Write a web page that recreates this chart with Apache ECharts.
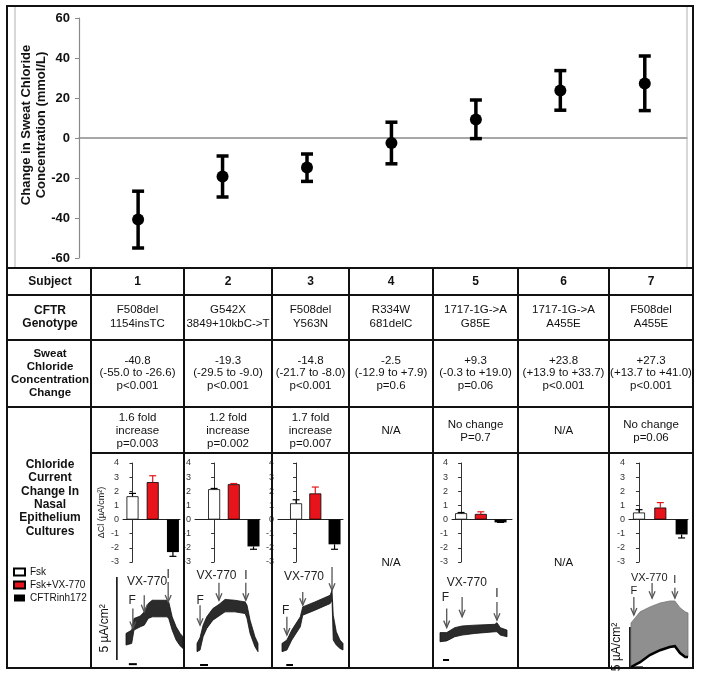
<!DOCTYPE html>
<html><head><meta charset="utf-8">
<script src="https://cdn.jsdelivr.net/npm/echarts@6/dist/echarts.min.js"></script>
<style>html,body{margin:0;padding:0;background:#fff}#c{width:701px;height:676px}</style>
</head><body><div id="c"></div><script>
// ---------------- DATA ----------------
const subjects = ['1','2','3','4','5','6','7'];
const sweatMean = [-40.8,-19.3,-14.8,-2.5,9.3,23.8,27.3];
const sweatLow  = [-55.0,-29.5,-21.7,-12.9,-0.3,13.9,13.7];
const sweatHigh = [-26.6,-9.0,-8.0,7.9,19.0,33.7,41.0];
const sweatTicks = [-60,-40,-20,0,20,40,60];
const sweatMeanText = ['-40.8','-19.3','-14.8','-2.5','+9.3','+23.8','+27.3'];
const sweatCIText = ['(-55.0 to -26.6)','(-29.5 to -9.0)','(-21.7 to -8.0)','(-12.9 to +7.9)','(-0.3 to +19.0)','(+13.9 to +33.7)','(+13.7 to +41.0)'];
const sweatPText = ['p<0.001','p<0.001','p<0.001','p=0.6','p=0.06','p<0.001','p<0.001'];
const genotypeA = ['F508del','G542X','F508del','R334W','1717-1G->A','1717-1G->A','F508del'];
const genotypeB = ['1154insTC','3849+10kbC->T','Y563N','681delC','G85E','A455E','A455E'];
const currentText = ['1.6 fold\nincrease\np=0.003','1.2 fold\nincrease\np=0.002','1.7 fold\nincrease\np=0.007','N/A','No change\nP=0.7','N/A','No change\np=0.06'];
const rowHeaders = ['Subject','CFTR\nGenotype','Sweat\nChloride\nConcentration\nChange','Chloride\nCurrent\nChange In\nNasal\nEpithelium\nCultures'];

const treatments = ['Fsk','Fsk+VX-770','CFTRinh172'];
const barSubjects = ['1','2','3','5','7'];
const barTicks = [-3,-2,-1,0,1,2,3,4];
const barMean = [[1.65,2.65,-2.3],[2.15,2.5,-1.9],[1.15,1.85,-1.75],[0.45,0.4,-0.2],[0.5,0.85,-1.05]];
const barErr  = [[1.85,3.1,-2.6],[2.2,2.55,-2.1],[1.4,2.3,-2.1],[0.5,0.55,-0.2],[0.7,1.2,-1.3]];

// traces: time (% of recording), upper / lower envelope (µA/cm²)
const traceT1 = [0,10,14,25,32,39,46,60,72,75,81,88,95,100];
const traceTop1 = [1.6,1.8,2.5,2.65,2.9,3.4,3.6,3.6,3.6,3.5,2.6,2.0,1.6,1.4];
const traceBot1 = [0.9,1.0,1.8,2.0,2.1,2.5,2.6,2.6,2.6,2.5,1.8,1.2,0.85,0.7];
const traceT2 = [0,5,10,16,26,36,46,62,79,82,87,95,100];
const traceTop2 = [1.0,1.35,2.1,2.6,3.1,3.35,3.65,3.6,3.5,3.3,2.4,1.4,1.0];
const traceBot2 = [0.5,0.6,1.4,1.9,2.4,2.65,2.9,2.9,2.8,2.5,1.6,0.8,0.5];
const traceT3 = [0,8,16,30,34,54,79,82,84,89,95,100];
const traceTop3 = [1.0,1.2,1.8,2.6,3.2,3.5,3.9,4.2,2.7,1.7,1.2,1.0];
const traceBot3 = [0.5,0.6,1.2,2.0,2.7,3.0,3.4,3.6,1.2,0.9,0.7,0.6];
const traceT5 = [0,10,22,33,52,82,85,90,100];
const traceTop5 = [1.65,1.65,1.95,2.05,2.1,2.15,2.25,1.95,1.8];
const traceBot5 = [1.1,1.15,1.4,1.5,1.6,1.7,1.7,1.5,1.4];
const traceT7 = [0,16,33,51,68,77,86,95,100];
const traceTop7 = [5.5,6.9,7.5,8.0,8.25,8.25,7.4,6.9,6.75];
const traceBot7 = [0,0.6,1.5,2.1,2.5,2.6,1.75,1.25,1.25];

// events: [time, arrow tail, arrow tip]; labels: [time, y, text]
const arrows1 = [[12,3.1,1.9],[32,3.9,2.9],[74,4.7,3.5]];
const labels1 = [[11,3.6,'F'],[37,4.7,'VX-770'],[74,5.15,'I']];
const arrows2 = [[5,3.3,2.1],[36,4.65,3.6],[80,4.65,3.6]];
const labels2 = [[5,3.55,'F'],[32,5.1,'VX-770'],[80,5.1,'I']];
const arrows3 = [[8,2.6,1.5],[34,4.1,3.3],[82,5.6,4.2]];
const labels3 = [[6,2.95,'F'],[36,5.0,'VX-770']];
const arrows5 = [[10,3.1,1.95],[33,3.8,2.6],[85,3.5,2.4]];
const labels5 = [[8,3.75,'F'],[40,4.65,'VX-770'],[85,4.0,'I']];
const arrows7 = [[5,8.75,6.5],[37,10.5,8.6],[77,9.9,8.6]];
const labels7 = [[5,9.5,'F'],[32,11.1,'VX-770'],[77,10.9,'I']];
// scale bars: [time, from, to] vertical 5 µA/cm²; time bars [t0, t1, y]
const scaleBar1 = [-16,0,5], scaleLabel1 = [-37,1.9];
const scaleBar7 = [-2,0,5], scaleLabel7 = [-25,2.5];
const timeBars = [[5,19,-0.25],[5,18,-0.3],[7,18,-0.3],[4.5,13.5,0],[3.5,21,-0.05]];

// ---------------- LAYOUT ----------------
const FONT = '"Liberation Sans", Arial, Helvetica, sans-serif';
const colX = [7, 91, 184, 272, 349, 433, 518, 609, 693];
const rowY = [268, 295, 340, 407, 453, 668];
const barColors = ['#ffffff','#e8141b','#000000'];
const errColors = ['#000000','#e8141b','#000000'];
const barGridLeft = [123,195,278,452,629];
const barGridRight = [180,260,343,512,688];
const barXMin = [-0.47,-0.97,-0.94,-0.46,-0.47];
const barXMax = [2.35,2.33,2.44,2.58,2.3];
const traceGrids = [
  {left:126,width:57,top:577,height:83,ymax:5},
  {left:197,width:61,top:577,height:83,ymax:5},
  {left:282,width:61,top:577,height:83,ymax:5},
  {left:440,width:67,top:577,height:83,ymax:5},
  {left:631,width:57,top:587,height:80,ymax:10}
];

const grids = [], xAxes = [], yAxes = [], series = [];
// top chart
grids.push({left:79, top:18, width:608, height:240});
xAxes.push({type:'value', gridIndex:0, min:0.3, max:7.5, axisLine:{show:true,onZero:true,lineStyle:{color:'#8a8a8a',width:1.5}}, axisTick:{show:false}, axisLabel:{show:false}, splitLine:{show:false}});
yAxes.push({type:'value', gridIndex:0, min:sweatTicks[0], max:sweatTicks[sweatTicks.length-1], interval:20,
  name:'Change in Sweat Chloride\nConcentration (mmol/L)', nameLocation:'middle', nameGap:30, nameMoveOverlap:false,
  nameTextStyle:{fontFamily:FONT,fontWeight:'bold',fontSize:13,color:'#111',lineHeight:15,padding:[0,0,0,26]},
  axisLine:{show:true,lineStyle:{color:'#8a8a8a',width:1.2}}, axisTick:{show:true,length:4,lineStyle:{color:'#8a8a8a'}},
  axisLabel:{fontFamily:FONT,fontWeight:'bold',fontSize:13,color:'#111',margin:9}, splitLine:{show:false}});
series.push({type:'custom', xAxisIndex:0, yAxisIndex:0, silent:true,
  data: subjects.map((s,i)=>[i+1, sweatLow[i], sweatHigh[i]]),
  encode:{x:0,y:[1,2]},
  renderItem:(params, api)=>{
    const x=api.value(0), p1=api.coord([x,api.value(1)]), p2=api.coord([x,api.value(2)]), w=6;
    const st={stroke:'#000',lineWidth:3.5};
    return {type:'group',children:[
      {type:'line',shape:{x1:p1[0],y1:p1[1],x2:p2[0],y2:p2[1]},style:st},
      {type:'line',shape:{x1:p1[0]-w,y1:p1[1],x2:p1[0]+w,y2:p1[1]},style:st},
      {type:'line',shape:{x1:p2[0]-w,y1:p2[1],x2:p2[0]+w,y2:p2[1]},style:st}]};
  }});
series.push({type:'scatter', xAxisIndex:0, yAxisIndex:0, symbol:'circle', symbolSize:12, itemStyle:{color:'#000',opacity:1}, silent:true, z:5,
  data: subjects.map((s,i)=>[i+1, sweatMean[i]])});

// bar charts
barSubjects.forEach((s,k)=>{
  const gi = grids.length;
  grids.push({left:barGridLeft[k], top:463, width:barGridRight[k]-barGridLeft[k], height:99});
  xAxes.push({type:'value', gridIndex:gi, min:barXMin[k], max:barXMax[k], axisLine:{show:true,onZero:true,lineStyle:{color:'#222',width:1}}, axisTick:{show:false}, axisLabel:{show:false}, splitLine:{show:false}});
  const ya = {type:'value', gridIndex:gi, min:barTicks[0], max:barTicks[barTicks.length-1], interval:1,
    axisLine:{show:true,lineStyle:{color:'#333',width:1}}, axisTick:{show:true,length:3,lineStyle:{color:'#333'}},
    axisLabel:{fontFamily:FONT,fontSize:9,color:'#333',margin:4}, splitLine:{show:false}};
  if (k===0) { ya.name='ΔCl (µA/cm²)'; ya.nameLocation='middle'; ya.nameGap=17; ya.nameMoveOverlap=false; ya.nameTextStyle={fontFamily:FONT,fontSize:9,color:'#222'}; }
  yAxes.push(ya);
  treatments.forEach((t,j)=>{
    series.push({type:'bar', name:t, xAxisIndex:gi, yAxisIndex:gi, barWidth:12, barGap:'-100%', silent:true,
      itemStyle:{color:barColors[j], borderColor:'#000', borderWidth: j===2?0:0.8},
      data:[[j, barMean[k][j]]]});
  });
  series.push({type:'custom', xAxisIndex:gi, yAxisIndex:gi, silent:true, z:1,
    data: barMean[k].map((v,j)=>[j, v, barErr[k][j]]), encode:{x:0,y:[1,2]},
    renderItem:(params, api)=>{
      const x=api.value(0), p1=api.coord([x,api.value(1)]), p2=api.coord([x,api.value(2)]), w=3.5;
      const st={stroke:errColors[params.dataIndex],lineWidth:1.2};
      return {type:'group',children:[
        {type:'line',shape:{x1:p1[0],y1:p1[1],x2:p2[0],y2:p2[1]},style:st},
        {type:'line',shape:{x1:p2[0]-w,y1:p2[1],x2:p2[0]+w,y2:p2[1]},style:st}]};
    }});
});

// traces
const traceSets = [
  {t:traceT1,top:traceTop1,bot:traceBot1,arrows:arrows1,labels:labels1,fs:12,scale:scaleBar1,scaleLabel:scaleLabel1},
  {t:traceT2,top:traceTop2,bot:traceBot2,arrows:arrows2,labels:labels2,fs:12},
  {t:traceT3,top:traceTop3,bot:traceBot3,arrows:arrows3,labels:labels3,fs:12},
  {t:traceT5,top:traceTop5,bot:traceBot5,arrows:arrows5,labels:labels5,fs:12},
  {t:traceT7,top:traceTop7,bot:traceBot7,arrows:arrows7,labels:labels7,fs:11,scale:scaleBar7,scaleLabel:scaleLabel7,light:true}
];
traceSets.forEach((tr,k)=>{
  const gi = grids.length, g = traceGrids[k];
  grids.push({left:g.left, top:g.top, width:g.width, height:g.height});
  xAxes.push({type:'value', gridIndex:gi, min:0, max:100, show:false});
  yAxes.push({type:'value', gridIndex:gi, min:0, max:g.ymax, show:false});
  series.push({type:'custom', xAxisIndex:gi, yAxisIndex:gi, silent:true, clip:false,
    data: tr.t.map((v,i)=>[v, tr.top[i], tr.bot[i]]), encode:{x:0,y:[1,2]},
    renderItem:(params, api)=>{
      if (params.dataIndex!==0) return null;
      const up = tr.t.map((v,i)=>api.coord([v,tr.top[i]]));
      const lo = tr.t.map((v,i)=>api.coord([v,tr.bot[i]]));
      const pts = up.concat(lo.slice().reverse());
      const ch = [{type:'polygon',shape:{points:pts},style:{fill:tr.light?'#8f8f8f':'#2b2b2b',stroke:tr.light?'#777':'#111',lineWidth:0.8}}];
      if (tr.light) ch.push({type:'polyline',shape:{points:lo},style:{stroke:'#000',lineWidth:2.5,fill:null}});
      return {type:'group',children:ch};
    }});
  series.push({type:'custom', xAxisIndex:gi, yAxisIndex:gi, silent:true, clip:false,
    data: tr.arrows, encode:{x:0,y:[1,2]},
    renderItem:(params, api)=>{
      const a=api.coord([api.value(0),api.value(1)]), b=api.coord([api.value(0),api.value(2)]);
      const st={stroke:'#555',lineWidth:1.3,fill:null};
      return {type:'group',children:[
        {type:'line',shape:{x1:a[0],y1:a[1],x2:b[0],y2:b[1]},style:st},
        {type:'polyline',shape:{points:[[b[0]-3,b[1]-7],[b[0],b[1]],[b[0]+3,b[1]-7]]},style:st}]};
    }});
  series.push({type:'custom', xAxisIndex:gi, yAxisIndex:gi, silent:true, clip:false,
    data: tr.labels.map(l=>[l[0],l[1]]), encode:{x:0,y:1},
    renderItem:(params, api)=>{
      const p=api.coord([api.value(0),api.value(1)]);
      return {type:'text',x:p[0],y:p[1],style:{text:tr.labels[params.dataIndex][2],fill:'#222',fontSize:tr.fs,fontFamily:FONT,align:'center',verticalAlign:'middle'}};
    }});
  series.push({type:'custom', xAxisIndex:gi, yAxisIndex:gi, silent:true, clip:false,
    data: [timeBars[k]], encode:{x:[0,1],y:2},
    renderItem:(params, api)=>{
      const a=api.coord([api.value(0),api.value(2)]), b=api.coord([api.value(1),api.value(2)]);
      return {type:'line',shape:{x1:a[0],y1:a[1],x2:b[0],y2:b[1]},style:{stroke:'#000',lineWidth:2}};
    }});
  if (tr.scale) {
    series.push({type:'custom', xAxisIndex:gi, yAxisIndex:gi, silent:true, clip:false,
      data: [[tr.scale[0],tr.scale[1],tr.scale[2],tr.scaleLabel[0],tr.scaleLabel[1]]], encode:{x:0,y:[1,2]},
      renderItem:(params, api)=>{
        const a=api.coord([api.value(0),api.value(1)]), b=api.coord([api.value(0),api.value(2)]);
        const c=api.coord([api.value(3),api.value(4)]);
        return {type:'group',children:[
          {type:'line',shape:{x1:a[0],y1:a[1],x2:b[0],y2:b[1]},style:{stroke:'#000',lineWidth:1.5}},
          {type:'text',x:c[0],y:c[1],rotation:Math.PI/2,style:{text:'5 µA/cm²',fill:'#111',fontSize:12,fontFamily:FONT,align:'center',verticalAlign:'middle'}}]};
      }});
  }
});

// ---------------- TABLE (graphic) ----------------
const graphic = [];
const L = (x1,y1,x2,y2,c,w)=>graphic.push({type:'line',silent:true,z:50,shape:{x1,y1,x2,y2},style:{stroke:c,lineWidth:w}});
L(15,7,15,267,'#b0b0b0',1); L(687,7,687,267,'#b0b0b0',1);
rowY.slice(0,4).forEach(y=>L(7,y,693,y,'#111',2));
L(colX[1],rowY[4],693,rowY[4],'#111',2);
colX.slice(1,8).forEach(x=>L(x,rowY[0],x,rowY[5],'#111',2));
graphic.push({type:'rect',silent:true,z:51,shape:{x:7,y:6,width:686,height:662},style:{fill:'none',stroke:'#111',lineWidth:2}});
const T = (x,y,text,opt)=>graphic.push({type:'text',silent:true,z:52,x,y,style:Object.assign({text,fill:'#111',fontSize:12,fontFamily:FONT,align:'center',verticalAlign:'middle'},opt||{})});
const hx = (colX[0]+colX[1])/2+1;
T(hx,281.5,rowHeaders[0],{fontWeight:'bold',fontSize:12});
T(hx,317,rowHeaders[1],{fontWeight:'bold',fontSize:12,lineHeight:13.5});
T(hx,373,rowHeaders[2],{fontWeight:'bold',fontSize:11.5,lineHeight:13});
T(hx,498,rowHeaders[3],{fontWeight:'bold',fontSize:12,lineHeight:13.3});
subjects.forEach((s,i)=>{
  const cx=(colX[i+1]+colX[i+2])/2;
  T(cx,281.5,s,{fontWeight:'bold',fontSize:12});
  T(cx,317,genotypeA[i]+'\n'+genotypeB[i],{fontSize:11.5,lineHeight:14.5});
  T(cx,373,sweatMeanText[i]+'\n'+sweatCIText[i]+'\n'+sweatPText[i],{fontSize:11.5,lineHeight:12.5});
  T(cx,431,currentText[i],{fontSize:11.5,lineHeight:12.8});
  if (currentText[i]==='N/A') T(cx,563,'N/A',{fontSize:11.5});
});

const option = {
  animation:false,
  backgroundColor:'#fff',
  grid:grids, xAxis:xAxes, yAxis:yAxes, series,
  legend:{data:treatments.map(n=>({name:n,icon:'rect'})), orient:'vertical', left:13, top:567, itemWidth:11, itemHeight:7, itemGap:3, padding:0, selectedMode:false,
    textStyle:{fontFamily:FONT,fontSize:10,color:'#111'}},
  graphic
};
const chart = echarts.init(document.getElementById('c'), null, {renderer:'canvas'});
chart.setOption(option);
</script></body></html>
